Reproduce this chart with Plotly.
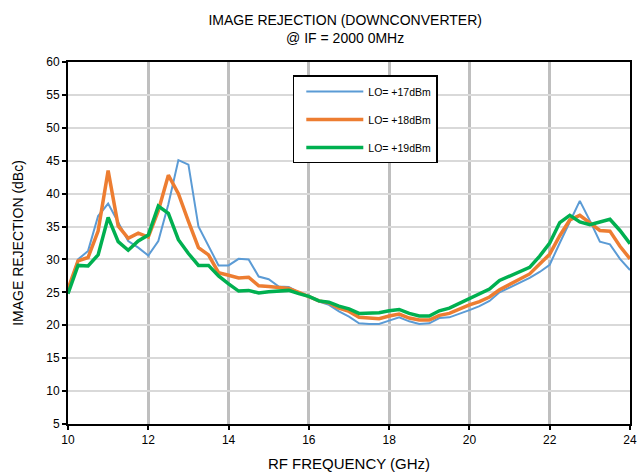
import plotly.graph_objects as go

freq = [10 + 0.25 * i for i in range(57)]

lo17 = [25.4, 30.0, 31.3, 36.6, 38.5, 35.6, 32.8, 31.8, 30.6, 32.8, 38.4, 45.1, 44.4, 35.0, 32.0, 29.1,
        29.1, 30.1, 30.0, 27.4, 27.0, 25.9, 25.8, 25.0, 24.4, 23.6, 23.1, 22.1, 21.3, 20.3, 20.2, 20.2,
        20.7, 21.2, 20.6, 20.2, 20.3, 21.1, 21.2, 21.7, 22.3, 22.9, 23.7, 25.0, 25.7, 26.4, 27.2, 28.1,
        29.2, 32.5, 35.8, 38.9, 35.9, 32.7, 32.3, 30.1, 28.4]
lo18 = [25.5, 29.8, 30.3, 34.3, 43.5, 35.1, 33.2, 34.0, 33.4, 37.4, 42.8, 40.0, 35.8, 31.8, 30.7, 28.0,
        27.6, 27.2, 27.3, 26.0, 25.9, 25.7, 25.6, 25.0, 24.4, 23.7, 23.4, 22.6, 22.1, 21.2, 21.1, 21.0,
        21.4, 21.7, 21.1, 20.8, 20.8, 21.5, 21.8, 22.5, 23.1, 23.6, 24.3, 25.4, 26.2, 27.0, 27.8, 29.3,
        30.8, 33.6, 36.0, 36.7, 35.6, 34.4, 34.3, 32.0, 30.1]
lo19 = [24.8, 29.1, 29.0, 30.7, 36.4, 32.7, 31.4, 32.8, 33.7, 38.1, 37.0, 33.0, 30.9, 29.1, 29.1, 27.5,
        26.3, 25.2, 25.3, 24.9, 25.1, 25.2, 25.3, 24.8, 24.4, 23.7, 23.5, 22.9, 22.5, 21.8, 21.8, 21.9,
        22.2, 22.4, 21.8, 21.4, 21.4, 22.2, 22.6, 23.3, 24.1, 24.8, 25.5, 26.8, 27.5, 28.2, 28.8, 30.5,
        32.5, 35.6, 36.7, 35.7, 35.3, 35.7, 36.1, 34.4, 32.4]

series_names = ["LO= +17dBm", "LO= +18dBm", "LO= +19dBm"]
series_colors = ["#5B9BD5", "#ED7D31", "#00B050"]
series_widths = [2, 3.5, 3.5]
x_ticks = [10, 12, 14, 16, 18, 20, 22, 24]
y_ticks = list(range(5, 65, 5))

fig = go.Figure()
for i, (name, ys) in enumerate(zip(series_names, [lo17, lo18, lo19])):
    fig.add_trace(go.Scatter(x=freq, y=ys, mode="lines", name=name, legendgroup=str(i),
                             line=dict(color=series_colors[i], width=series_widths[i])))

font_family = "Liberation Sans, Arial, sans-serif"
fig.update_layout(
    width=638, height=475,
    margin=dict(l=68, r=8, t=62, b=51, autoexpand=False),
    paper_bgcolor="white", plot_bgcolor="white",
    font=dict(family=font_family, color="black", size=12),
    title=dict(text="IMAGE REJECTION (DOWNCONVERTER)<br>@ IF = 2000 0MHz",
               x=0.541, xanchor="center", xref="container",
               y=0.947, yanchor="top", yref="container",
               font=dict(size=14, family=font_family, color="black")),
    legend=dict(x=0.40, y=0.963, xanchor="left", yanchor="top",
                bgcolor="white", bordercolor="black", borderwidth=1.5,
                font=dict(size=10.5, family=font_family, color="black"),
                tracegroupgap=9, itemwidth=57, indentation=7),
    showlegend=True,
)
fig.update_xaxes(range=[10, 24], tickvals=x_ticks, showgrid=True, gridcolor="#BFBFBF", gridwidth=3,
                 showline=True, linecolor="black", linewidth=2, mirror=True,
                 ticks="outside", ticklen=4, tickwidth=1.5, tickcolor="black",
                 tickfont=dict(size=12), zeroline=False, automargin=False,
                 title=dict(text="RF FREQUENCY (GHz)", font=dict(size=15), standoff=12))
fig.update_yaxes(range=[5, 60], tickvals=y_ticks, showgrid=True, gridcolor="#D9D9D9", gridwidth=1.5,
                 showline=True, linecolor="black", linewidth=2, mirror=True,
                 ticks="outside", ticklen=4, tickwidth=1.5, tickcolor="black",
                 tickfont=dict(size=12), zeroline=False, automargin=False,
                 title=dict(text="IMAGE REJECTION (dBc)", font=dict(size=14), standoff=19))

fig.write_html("out.html", config={"displayModeBar": False},
               post_script="document.body.style.margin='0';document.body.style.padding='0';"
                           "document.body.style.overflow='hidden';")
